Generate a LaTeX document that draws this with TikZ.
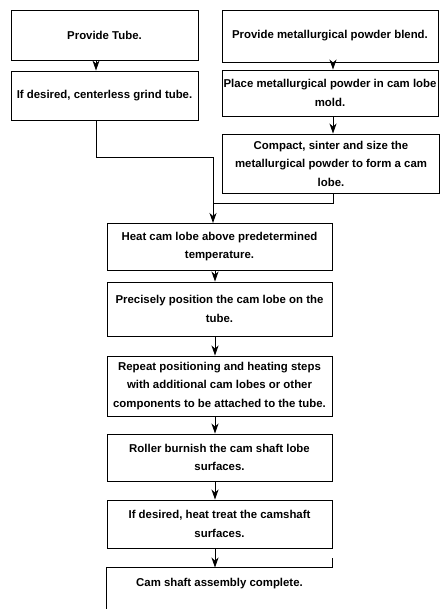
\documentclass[tikz,border=0pt]{standalone}
\usepackage{fontspec}
\setmainfont{Liberation Sans}
\usetikzlibrary{arrows.meta}
\begin{document}
\begin{tikzpicture}[x=1pt,y=-1pt,
  stepbox/.style={draw,line width=0.9pt,rectangle,inner sep=0pt,align=center,
    font=\fontsize{11.4}{18.5}\selectfont\bfseries},
  arr/.style={line width=0.9pt,-{Stealth[length=10pt,width=7pt,inset=3pt]}},
  ln/.style={line width=0.9pt}]
\useasboundingbox (0,0) rectangle (440,609);
\node[stepbox,minimum width=187pt,minimum height=50pt] (b1) at (104.5,35) {Provide Tube.};
\node[stepbox,minimum width=187pt,minimum height=49pt] (b2) at (104.5,95.5) {If desired, centerless grind tube.};
\node[stepbox,minimum width=216pt,minimum height=52pt] (b3) at (330,36) {Provide metallurgical powder blend.};
\node[stepbox,minimum width=216pt,minimum height=46pt] (b4) at (330,93) {Place metallurgical powder in cam lobe\\mold.};
\node[stepbox,minimum width=217pt,minimum height=59pt] (b5) at (331,163.5) {Compact, sinter and size the\\metallurgical powder to form a cam\\lobe.};
\node[stepbox,minimum width=225pt,minimum height=47pt] (b6) at (219.5,246.5) {Heat cam lobe above predetermined\\temperature.};
\node[stepbox,minimum width=225pt,minimum height=54pt] (b7) at (219.5,309) {Precisely position the cam lobe on the\\tube.};
\node[stepbox,minimum width=225pt,minimum height=60pt] (b8) at (219.5,386) {Repeat positioning and heating steps\\with additional cam lobes or other\\components to be attached to the tube.};
\node[stepbox,minimum width=225pt,minimum height=47pt] (b9) at (219.5,457.5) {Roller burnish the cam shaft lobe\\surfaces.};
\node[stepbox,minimum width=225pt,minimum height=48pt] (b10) at (219.5,524) {If desired, heat treat the camshaft\\surfaces.};
\node[stepbox,draw=none,minimum width=225pt,minimum height=32pt] (b11) at (219.5,584) {Cam shaft assembly complete.};
\draw[ln] ([yshift=-10pt]b11.south west) -- (b11.north west) -- (b11.north east) -- ([yshift=10pt]b11.north east);
% columns
\coordinate (cL) at (96,0);
\coordinate (cR) at (333,0);
\coordinate (cM) at (215,0);
\coordinate (j1) at (213,157);
\coordinate (j2) at (213,203);
\coordinate (m) at (213,223);
\draw[arr] (b1.south -| cL) -- (b2.north -| cL);
\draw[arr] (b3.south -| cR) -- (b4.north -| cR);
\draw[arr] (b4.south -| cR) -- (b5.north -| cR);
\draw[arr] (b2.south -| cL) |- (j1) -- (m);
\draw[ln] (b5.south -| cR) |- (j2);
\draw[arr] (b6.south -| cM) -- (b7.north -| cM);
\draw[arr] (b7.south -| cM) -- (b8.north -| cM);
\draw[arr] (b8.south -| cM) -- (b9.north -| cM);
\draw[arr] (b9.south -| cM) -- (b10.north -| cM);
\draw[arr] (b10.south -| cM) -- (b11.north -| cM);
\end{tikzpicture}
\end{document}
